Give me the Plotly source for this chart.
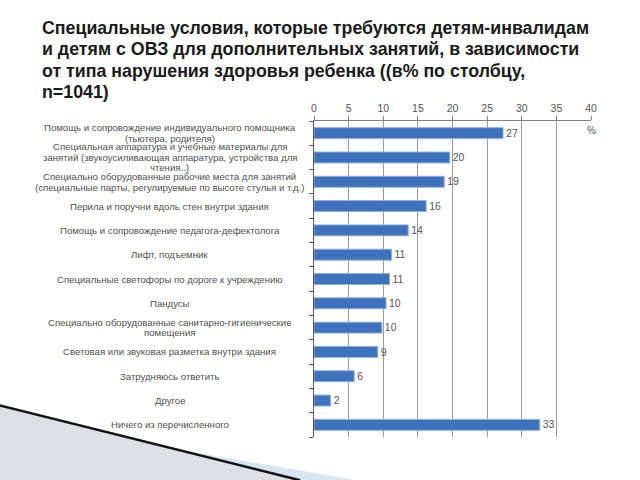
import plotly.graph_objects as go

categories = [
    "Помощь и сопровождение индивидуального помощника<br>(тьютера, родителя)",
    "Специальная аппаратура и учебные материалы для<br>занятий (звукоусиливающая аппаратура, устройства для<br>чтения..)",
    "Специально оборудованные рабочие места для занятий<br>(специальные парты, регулируемые по высоте стулья и т.д.)",
    "Перила и поручни вдоль стен внутри здания",
    "Помощь и сопровождение педагога-дефектолога",
    "Лифт, подъемник",
    "Специальные светофоры по дороге к учреждению",
    "Пандусы",
    "Специально оборудованные санитарно-гигиенические<br>помещения",
    "Световая или звуковая разметка внутри здания",
    "Затрудняюсь ответить",
    "Другое",
    "Ничего из перечисленного",
]
values = [27.3, 19.6, 18.8, 16.2, 13.6, 11.2, 10.9, 10.4, 9.8, 9.2, 5.8, 2.4, 32.6]
x_ticks = [0, 5, 10, 15, 20, 25, 30, 35, 40]
title_lines = [
    "Специальные условия, которые требуются детям-инвалидам",
    "и детям с ОВЗ для дополнительных занятий, в зависимости",
    "от типа нарушения здоровья ребенка ((в% по столбцу,",
    "n=1041)",
]

fig = go.Figure()
fig.add_trace(go.Bar(
    x=values, y=list(range(len(categories))), orientation="h",
    marker=dict(color="#3E72BD", line=dict(color="#8FAEDB", width=1)),
    text=values, texttemplate="%{x:.0f}", textposition="outside",
    textfont=dict(family="Liberation Sans, Arial", size=11.5, color="#555555"),
    cliponaxis=False, hoverinfo="skip",
))

annotations = []
line_step = 10.5
for i, c in enumerate(categories):
    lines = c.split("<br>")
    n = len(lines)
    for k, ln in enumerate(lines):
        annotations.append(dict(
            x=-0.52, xref="paper", y=i, yref="y", text=ln, showarrow=False,
            xanchor="center", yanchor="middle", align="center",
            yshift=((n - 1) / 2 - k) * line_step,
            font=dict(family="Liberation Sans, Arial", size=9.6, color="#505050"),
        ))
annotations.append(dict(
    x=1.0, xref="paper", y=0.995, yref="paper", text="%", showarrow=False,
    xanchor="center", yanchor="top",
    font=dict(family="Liberation Sans, Arial", size=10, color="#555555"),
))
plot_h = 480 - 121 - 43
for k, ln in enumerate(title_lines):
    center_px = 28 + k * 21.3
    annotations.append(dict(
        x=-0.989, xref="paper", y=(480 - 43 - center_px) / plot_h, yref="paper",
        text="<b>" + ln + "</b>", showarrow=False, xanchor="left", yanchor="middle",
        align="left",
        font=dict(family="Liberation Sans, Arial", size=17.8, color="#1a1a1a"),
    ))

shapes = [
    dict(type="path", xref="paper", yref="paper",
         path="M -1.14 0.101 L -0.05 -0.137 L -1.14 -0.137 Z",
         fillcolor="#dcdfe3", line=dict(width=0), layer="above"),
    dict(type="path", xref="paper", yref="paper",
         path="M 0.15 -0.137 L -0.05 -0.137 L -0.55 -0.03 Z",
         fillcolor="#d6e6f2", line=dict(width=0), layer="above"),
    dict(type="line", xref="paper", yref="paper",
         x0=-1.14, y0=0.101, x1=-0.05, y1=-0.137,
         line=dict(color="#111111", width=2.5), layer="above"),
]

fig.update_layout(
    width=640, height=480,
    margin=dict(l=314, r=49, t=121, b=43),
    paper_bgcolor="white", plot_bgcolor="white",
    showlegend=False, bargap=0.55,
    annotations=annotations, shapes=shapes,
    xaxis=dict(
        side="top", range=[0, 40], tickvals=x_ticks,
        showgrid=True, gridcolor="#9a9a9a", gridwidth=1,
        showline=True, linecolor="#808080", linewidth=1,
        ticks="outside", ticklen=4, tickcolor="#808080",
        tickfont=dict(family="Liberation Sans, Arial", size=10.5, color="#555555"),
        zeroline=False, fixedrange=True,
    ),
    yaxis=dict(
        type="linear", range=[12.5, -0.5],
        showgrid=False, showticklabels=False,
        showline=True, linecolor="#555555", linewidth=1,
        tickvals=[i - 0.5 for i in range(len(categories) + 1)],
        ticks="outside", ticklen=4, tickcolor="#555555",
        zeroline=False, fixedrange=True,
    ),
)

fig.write_html("out.html")
